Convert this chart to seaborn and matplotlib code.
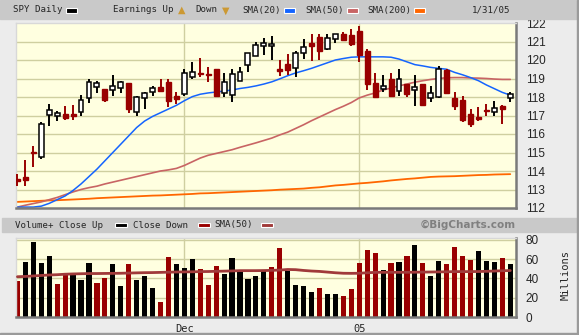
import numpy as np
import pandas as pd
import matplotlib
matplotlib.use("Agg")
import matplotlib.pyplot as plt
from matplotlib.patches import Rectangle
import seaborn as sns

# ---------------- data ----------------
opens = [113.55, 113.69, 115.00, 114.78, 117.03, 116.99, 117.08, 117.08, 117.19, 117.93,
         118.52, 118.41, 118.37, 118.50, 118.73, 117.19, 117.93, 118.28, 118.52, 118.81,
         118.04, 118.17, 119.10, 119.30, 119.22, 119.50, 118.23, 118.10, 118.88, 119.75,
         120.19, 120.73, 120.73, 119.50, 119.79, 119.59, 120.40, 120.91, 121.22, 120.62,
         121.13, 121.38, 121.35, 121.56, 120.48, 118.77, 118.44, 118.99, 118.33, 118.70,
         118.37, 118.68, 117.95, 118.00, 119.46, 117.92, 117.83, 117.10, 116.94, 117.32,
         117.19, 117.54, 117.93]
highs = [113.83, 114.60, 115.36, 116.66, 117.64, 117.26, 117.54, 117.59, 118.13, 118.99,
         118.84, 118.41, 119.17, 118.85, 118.75, 118.06, 118.26, 118.62, 118.99, 118.99,
         118.26, 119.53, 119.90, 120.13, 119.64, 119.52, 119.31, 119.50, 119.62, 120.40,
         120.98, 121.17, 121.31, 120.00, 120.33, 120.49, 121.13, 121.38, 121.38, 121.38,
         121.40, 121.49, 121.67, 121.82, 120.58, 119.31, 119.17, 119.28, 119.50, 118.70,
         119.19, 118.70, 118.59, 119.68, 119.50, 118.26, 118.04, 117.35, 117.46, 117.64,
         117.77, 117.55, 118.26]
lows = [113.20, 113.20, 114.23, 114.67, 116.45, 116.68, 116.74, 116.74, 116.95, 117.68,
        118.20, 117.72, 118.04, 118.19, 117.12, 116.99, 117.35, 118.03, 118.26, 117.46,
        117.63, 118.08, 118.99, 119.10, 118.80, 118.00, 117.99, 117.72, 118.85, 119.35,
        120.19, 120.28, 120.00, 119.13, 119.17, 119.08, 120.08, 119.97, 120.00, 120.55,
        120.91, 121.02, 120.77, 119.90, 118.40, 117.99, 118.26, 118.08, 118.08, 117.99,
        117.50, 117.50, 117.72, 117.92, 118.19, 117.28, 116.66, 116.36, 116.70, 116.99,
        116.95, 116.56, 117.72]
closes = [113.45, 113.52, 114.95, 116.54, 117.30, 117.14, 116.85, 116.95, 117.86, 118.79,
          118.73, 117.86, 118.62, 118.80, 117.37, 118.00, 118.19, 118.46, 118.32, 117.77,
          117.90, 119.28, 119.33, 119.25, 119.20, 118.08, 118.80, 119.22, 119.35, 120.40,
          120.80, 120.91, 120.86, 119.40, 119.46, 120.40, 120.68, 120.77, 120.49, 121.17,
          121.38, 121.09, 120.87, 120.29, 118.68, 117.99, 118.59, 118.08, 118.99, 118.15,
          118.55, 117.59, 118.23, 119.50, 118.19, 117.50, 116.74, 116.54, 116.83, 117.23,
          117.41, 117.37, 118.15]
sma20 = [112.05, 112.05, 112.05, 112.10, 112.25, 112.45, 112.65, 112.95, 113.30, 113.70,
         114.10, 114.55, 115.00, 115.45, 115.90, 116.35, 116.70, 116.95, 117.15, 117.35,
         117.55, 117.80, 118.02, 118.15, 118.22, 118.27, 118.32, 118.38, 118.46, 118.52,
         118.60, 118.70, 118.82, 118.98, 119.15, 119.30, 119.42, 119.55, 119.70, 119.85,
         120.00, 120.08, 120.15, 120.17, 120.17, 120.17, 120.17, 120.15, 120.05, 119.90,
         119.75, 119.68, 119.60, 119.55, 119.50, 119.33, 119.20, 119.05, 118.88, 118.65,
         118.45, 118.25, 118.10]
sma50 = [112.05, 112.15, 112.24, 112.33, 112.45, 112.57, 112.72, 112.87, 113.00, 113.10,
         113.18, 113.30, 113.40, 113.50, 113.60, 113.70, 113.80, 113.90, 114.00, 114.06,
         114.14, 114.30, 114.50, 114.70, 114.85, 114.95, 115.05, 115.15, 115.28, 115.40,
         115.52, 115.65, 115.78, 115.95, 116.10, 116.30, 116.50, 116.72, 116.92, 117.12,
         117.32, 117.50, 117.70, 117.95, 118.10, 118.22, 118.38, 118.48, 118.60, 118.70,
         118.80, 118.88, 118.95, 119.00, 119.04, 119.05, 119.05, 119.03, 119.02, 119.00,
         118.97, 118.95, 118.95]
sma200 = [112.33, 112.35, 112.37, 112.39, 112.41, 112.42, 112.44, 112.46, 112.48, 112.50,
          112.53, 112.55, 112.57, 112.59, 112.61, 112.63, 112.65, 112.67, 112.68, 112.70,
          112.72, 112.74, 112.76, 112.79, 112.80, 112.82, 112.84, 112.86, 112.88, 112.90,
          112.92, 112.94, 112.96, 112.99, 113.01, 113.03, 113.05, 113.09, 113.12, 113.17,
          113.22, 113.25, 113.29, 113.33, 113.36, 113.40, 113.44, 113.49, 113.53, 113.57,
          113.60, 113.64, 113.68, 113.70, 113.71, 113.72, 113.74, 113.76, 113.78, 113.79,
          113.81, 113.82, 113.83]
volume = [37.2, 57.0, 78.0, 56.3, 63.3, 34.1, 45.2, 44.2, 38.6, 56.3,
          35.1, 40.3, 55.0, 32.0, 55.0, 38.6, 42.4, 30.0, 15.3, 62.3,
          55.0, 50.8, 60.2, 49.7, 33.0, 52.9, 44.5, 61.2, 47.3, 39.3,
          42.4, 47.3, 51.8, 71.7, 47.3, 33.0, 32.0, 25.7, 30.0, 23.7,
          23.7, 21.6, 28.9, 56.3, 69.6, 66.4, 48.7, 56.3, 57.0, 63.3,
          74.8, 56.3, 42.4, 58.0, 55.0, 72.7, 63.3, 59.1, 68.5, 58.0,
          57.0, 61.2, 55.0]
vol_sma50 = [41.7, 42.0, 42.5, 43.0, 43.5, 43.8, 44.3, 44.6, 44.8, 45.0,
             45.0, 45.1, 45.2, 45.3, 45.5, 45.7, 45.9, 46.0, 46.2, 46.4,
             46.6, 46.7, 46.8, 47.0, 47.1, 47.3, 47.5, 47.7, 48.0, 48.0,
             48.0, 48.1, 48.3, 48.6, 49.2, 49.0, 48.2, 47.6, 47.2, 46.5,
             45.8, 45.3, 45.2, 45.3, 45.8, 46.2, 46.3, 46.3, 46.3, 46.3,
             46.4, 46.5, 46.6, 46.7, 46.8, 47.0, 47.0, 47.0, 47.1, 47.3,
             47.6, 47.9, 48.1]
price_ticks = [112, 113, 114, 115, 116, 117, 118, 119, 120, 121, 122]
vol_ticks = [0, 20, 40, 60, 80]
month_labels = ["Dec", "05"]
month_pos = [21, 43]
title_left = "SPY Daily"
title_date = "1/31/05"

# ---------------- styling ----------------
sns.set_style("white")
plt.rcParams['font.family'] = ['DejaVu Sans Mono']

BG = '#ececec'
BAR = '#c9c9c9'
PANEL = '#ffffe0'
GRID = '#cfcfa0'
RED = '#990000'
BLUE = '#1464ff'
PINK = '#c86464'
ORANGE = '#ff6600'
VSMA = '#a03a3a'

W, H = 579, 335
fig = plt.figure(figsize=(W / 100, H / 100), dpi=100, facecolor=BG)


def fx(px):
    return px / W


def fy(py):
    return 1 - py / H


# header bars
fig.patches.append(Rectangle((0, fy(19)), fx(578), 19 / H, transform=fig.transFigure,
                             color=BAR, zorder=0))
fig.patches.append(Rectangle((fx(2), fy(232)), fx(576), 14 / H, transform=fig.transFigure,
                             color=BAR, zorder=0))

n = len(closes)
idx = np.arange(n)
x0, x1 = -0.18, 62.72

# ---------------- price panel ----------------
axp = fig.add_axes([fx(16), fy(208), fx(500), 185 / H])
axp.set_facecolor(PANEL)
axp.set_xlim(x0, x1)
axp.set_ylim(price_ticks[0], price_ticks[-1])
for t in price_ticks[1:-1]:
    axp.axhline(t, color=GRID, lw=1.0, zorder=0)
for p in month_pos:
    axp.axvline(p, color=GRID, lw=1.0, zorder=0)

df = pd.DataFrame({'i': idx, 'sma20': sma20, 'sma50': sma50, 'sma200': sma200})
sns.lineplot(data=df, x='i', y='sma200', color=ORANGE, lw=1.3, ax=axp, zorder=2)
sns.lineplot(data=df, x='i', y='sma50', color=PINK, lw=1.2, ax=axp, zorder=2)
sns.lineplot(data=df, x='i', y='sma20', color=BLUE, lw=1.1, ax=axp, zorder=2)

o = np.array(opens); c = np.array(closes); h = np.array(highs); l = np.array(lows)
up = c >= o
wick_col = np.where(up, 'black', RED)
axp.vlines(idx, l, h, colors=wick_col, lw=1.4, zorder=3)
body_bottom = np.minimum(o, c)
body_h = np.maximum(np.abs(c - o), 0.06)
axp.bar(idx[up], body_h[up], bottom=body_bottom[up], width=0.62, color='white',
        edgecolor='black', lw=1.1, zorder=4)
axp.bar(idx[~up], body_h[~up], bottom=body_bottom[~up], width=0.62, color=RED,
        edgecolor=RED, lw=1.0, zorder=4)

axp.set_xlim(x0, x1)
axp.set_ylim(price_ticks[0], price_ticks[-1])
axp.set_xlabel(''); axp.set_ylabel('')
axp.set_xticks([])
axp.yaxis.tick_right()
axp.set_yticks(price_ticks)
axp.set_yticklabels([str(t) for t in price_ticks], family='Liberation Sans', fontsize=8.5)
axp.tick_params(axis='y', length=0, pad=7)
for s in ['top', 'left']:
    axp.spines[s].set_color('#d8d8d8'); axp.spines[s].set_linewidth(1)
for s in ['bottom', 'right']:
    axp.spines[s].set_color('#7a7a7a'); axp.spines[s].set_linewidth(1.8)

# ---------------- volume panel ----------------
axv = fig.add_axes([fx(16), fy(317), fx(500), 79 / H])
axv.set_facecolor(PANEL)
vol_dir = ['down'] + ['up' if closes[k] > closes[k - 1] else 'down' for k in range(1, n)]
dv = pd.DataFrame({'i': idx, 'vol': volume, 'dir': vol_dir, 'vsma': vol_sma50})
for t in vol_ticks[1:]:
    axv.axhline(t, color=GRID, lw=1.0, zorder=0)
for p in month_pos:
    axv.axvline(p, color=GRID, lw=1.0, zorder=0)
sns.barplot(data=dv, x='i', y='vol', hue='dir', palette={'up': 'black', 'down': RED},
            native_scale=True, dodge=False, width=0.65, saturation=1, legend=False,
            errorbar=None, ax=axv, zorder=2, linewidth=0)
sns.lineplot(data=dv, x='i', y='vsma', color=VSMA, lw=2.0, ax=axv, zorder=3)
axv.set_xlim(x0, x1)
axv.set_ylim(0, 81.8)
axv.set_xlabel(''); axv.set_ylabel('')
axv.set_xticks(month_pos)
axv.set_xticklabels(month_labels, fontsize=7.5)
axv.tick_params(axis='x', length=0, pad=5)
axv.yaxis.tick_right()
axv.set_yticks(vol_ticks)
axv.set_yticklabels([str(t) for t in vol_ticks], family='Liberation Sans', fontsize=8.5)
axv.tick_params(axis='y', length=0, pad=7)
for s in ['top', 'left']:
    axv.spines[s].set_color('#d8d8d8'); axv.spines[s].set_linewidth(1)
for s in ['bottom', 'right']:
    axv.spines[s].set_color('#7a7a7a'); axv.spines[s].set_linewidth(1.8)

fig.text(fx(566), fy(275), "Millions", rotation=90, ha='center', va='center', fontsize=7.5)

# ---------------- header texts ----------------
fs = 6.6
ty = fy(10)
fig.text(fx(13), ty, title_left, ha='left', va='center', fontsize=fs)
fig.patches.append(Rectangle((fx(66), fy(13)), fx(11), 5 / H, transform=fig.transFigure,
                             facecolor='black', edgecolor='white', lw=0.8))
fig.text(fx(113), ty, "Earnings Up", ha='left', va='center', fontsize=fs)
fig.text(fx(182), fy(9.5), "\u25B2", ha='center', va='center', fontsize=7,
         color='#cc9933', family='DejaVu Sans')
fig.text(fx(195), ty, "Down", ha='left', va='center', fontsize=fs)
fig.text(fx(226), fy(10.5), "\u25BC", ha='center', va='center', fontsize=7,
         color='#cc9933', family='DejaVu Sans')
fig.text(fx(242), ty, "SMA(20)", ha='left', va='center', fontsize=fs)
fig.patches.append(Rectangle((fx(284), fy(13)), fx(11), 5 / H, transform=fig.transFigure,
                             facecolor=BLUE, edgecolor='white', lw=0.8))
fig.text(fx(305), ty, "SMA(50)", ha='left', va='center', fontsize=fs)
fig.patches.append(Rectangle((fx(347), fy(13)), fx(11), 5 / H, transform=fig.transFigure,
                             facecolor=PINK, edgecolor='white', lw=0.8))
fig.text(fx(367), ty, "SMA(200)", ha='left', va='center', fontsize=fs)
fig.patches.append(Rectangle((fx(414), fy(13)), fx(11), 5 / H, transform=fig.transFigure,
                             facecolor=ORANGE, edgecolor='white', lw=0.8))
fig.text(fx(510), ty, title_date, ha='right', va='center', fontsize=fs)

# volume header
vy = fy(225)
fig.text(fx(15), vy, "Volume+ Close Up", ha='left', va='center', fontsize=fs)
fig.patches.append(Rectangle((fx(115), fy(227)), fx(12), 4 / H, transform=fig.transFigure,
                             facecolor='black', edgecolor='white', lw=0.8))
fig.text(fx(133), vy, "Close Down", ha='left', va='center', fontsize=fs)
fig.patches.append(Rectangle((fx(198), fy(227)), fx(12), 4 / H, transform=fig.transFigure,
                             facecolor=RED, edgecolor='white', lw=0.8))
fig.text(fx(214), vy, "SMA(50)", ha='left', va='center', fontsize=fs)
fig.patches.append(Rectangle((fx(261), fy(227)), fx(12), 4 / H, transform=fig.transFigure,
                             facecolor=VSMA, edgecolor='white', lw=0.8))
fig.text(fx(516), vy, "\u00A9BigCharts.com", ha='right', va='center', fontsize=7.5,
         color='#808080', fontweight='bold', family='DejaVu Sans')

# outer frame shading
fig.patches.append(Rectangle((fx(577), 0), fx(2), 1, transform=fig.transFigure,
                             color='#9a9a9a', zorder=0))
fig.patches.append(Rectangle((0, 0), 1, 2 / H, transform=fig.transFigure,
                             color='#9a9a9a', zorder=0))

fig.savefig("out.png", dpi=100, facecolor=BG)
